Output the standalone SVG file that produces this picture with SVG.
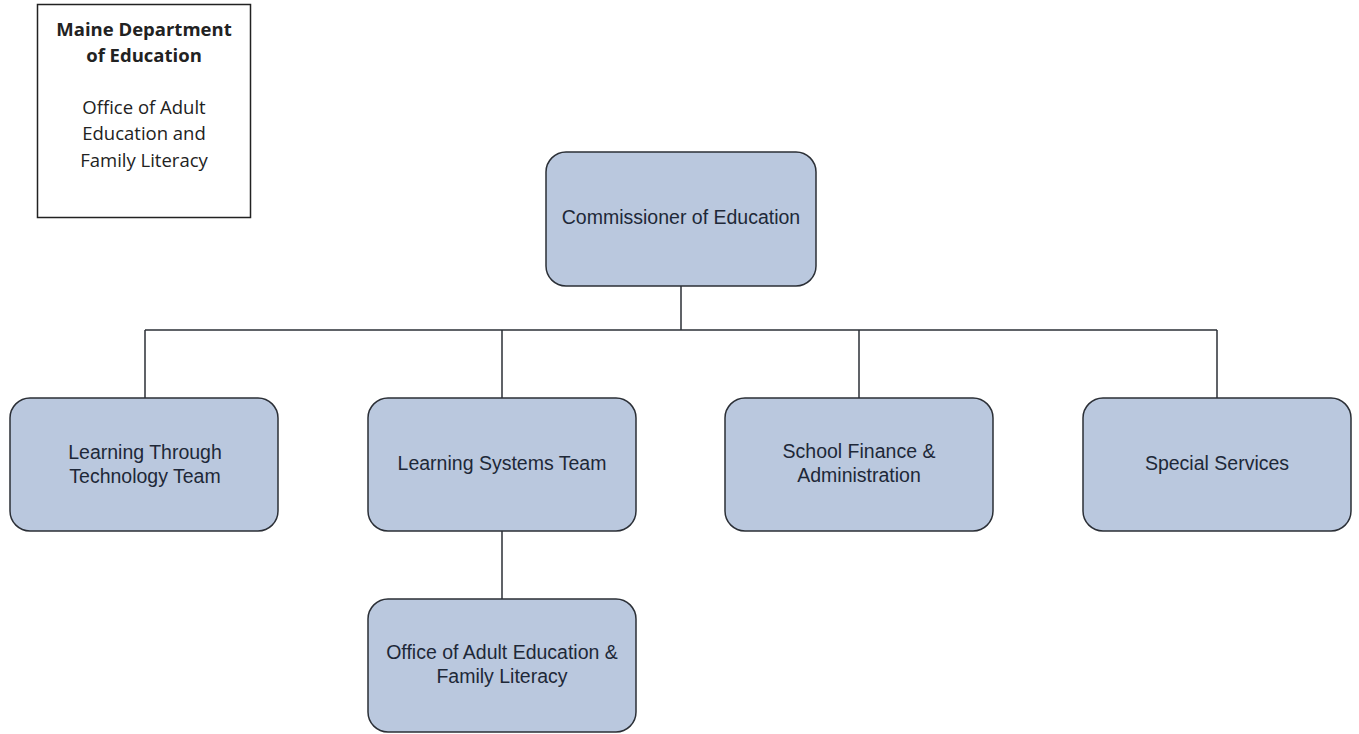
<svg xmlns="http://www.w3.org/2000/svg" width="1359" height="734" viewBox="0 0 1359 734">
<style>
.node rect{fill:#bac8de;stroke:#2b2f36;stroke-width:1.5}
.node text{font-family:"Liberation Sans",Arial,sans-serif;font-size:19.5px;fill:#1e2838;text-anchor:middle}
.conn line{stroke:#2b2f36;stroke-width:1.5}
.title text{font-family:"Open Sans","Noto Sans",sans-serif;font-size:18.5px;fill:#222;text-anchor:middle}
</style>
<rect width="1359" height="734" fill="#fff"/>
<g id="title" class="title">
<rect x="37.5" y="4.5" width="213" height="213" fill="#fff" stroke="#222" stroke-width="1.5"/>
<text x="144" y="36" font-weight="bold">Maine Department</text>
<text x="144" y="62" font-weight="bold">of Education</text>
<text x="144" y="114">Office of Adult</text>
<text x="144" y="140">Education and</text>
<text x="144" y="167">Family Literacy</text>
</g>
<g id="connectors" class="conn">
<line x1="681" y1="286" x2="681" y2="330"/>
<line x1="145" y1="330" x2="1217" y2="330"/>
<line x1="145" y1="330" x2="145" y2="398"/>
<line x1="502" y1="330" x2="502" y2="398"/>
<line x1="859" y1="330" x2="859" y2="398"/>
<line x1="1217" y1="330" x2="1217" y2="398"/>
<line x1="502" y1="531" x2="502" y2="599"/>
</g>
<g id="commissioner" class="node">
<rect x="546" y="152" width="270" height="134" rx="20"/>
<text x="681" y="224">Commissioner of Education</text>
</g>
<g id="ltt" class="node">
<rect x="10" y="398" width="268" height="133" rx="20"/>
<text x="145" y="459">Learning Through</text>
<text x="145" y="483">Technology Team</text>
</g>
<g id="lst" class="node">
<rect x="368" y="398" width="268" height="133" rx="20"/>
<text x="502" y="470">Learning Systems Team</text>
</g>
<g id="sfa" class="node">
<rect x="725" y="398" width="268" height="133" rx="20"/>
<text x="859" y="458">School Finance &amp;</text>
<text x="859" y="482">Administration</text>
</g>
<g id="ss" class="node">
<rect x="1083" y="398" width="268" height="133" rx="20"/>
<text x="1217" y="470">Special Services</text>
</g>
<g id="oae" class="node">
<rect x="368" y="599" width="268" height="133" rx="20"/>
<text x="502" y="659">Office of Adult Education &amp;</text>
<text x="502" y="683">Family Literacy</text>
</g>
</svg>
